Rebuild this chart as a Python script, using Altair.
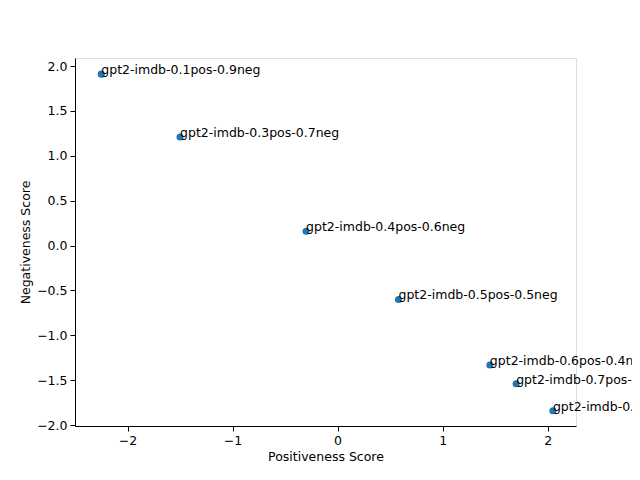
import altair as alt
import pandas as pd

labels = ["gpt2-imdb-0.1pos-0.9neg", "gpt2-imdb-0.3pos-0.7neg", "gpt2-imdb-0.4pos-0.6neg",
          "gpt2-imdb-0.5pos-0.5neg", "gpt2-imdb-0.6pos-0.4neg", "gpt2-imdb-0.7pos-0.3neg",
          "gpt2-imdb-0.9pos-0.1neg"]
pos = [-2.25, -1.50, -0.30, 0.58, 1.45, 1.70, 2.05]
neg = [1.91, 1.21, 0.16, -0.60, -1.33, -1.54, -1.84]

df = pd.DataFrame({"label": labels, "pos": pos, "neg": neg})

ax = dict(grid=False, labelFont="DejaVu Sans", titleFont="DejaVu Sans", labelFontSize=12.5,
          titleFontSize=12.5, titleFontWeight="normal", labelColor="black", titleColor="black",
          domainColor="black", tickColor="black", tickSize=5, labelPadding=3)
x = alt.X("pos:Q", title="Positiveness Score",
          scale=alt.Scale(domain=[-2.5, 2.27], nice=False, zero=False),
          axis=alt.Axis(values=[-2, -1, 0, 1, 2], format="d", **ax))
y = alt.Y("neg:Q", title="Negativeness Score",
          scale=alt.Scale(domain=[-2.01, 2.09], nice=False, zero=False),
          axis=alt.Axis(values=[-2, -1.5, -1, -0.5, 0, 0.5, 1, 1.5, 2], format=".1f", **ax))

pts = alt.Chart(df).mark_point(filled=True, opacity=1, size=50, color="#1f77b4").encode(x=x, y=y)
txt = alt.Chart(df).mark_text(align="left", baseline="alphabetic", dy=0, fontSize=12.5,
                              font="DejaVu Sans", color="black", clip=False).encode(x=x, y=y, text="label")

chart = (pts + txt).properties(
    width=501, height=368,
    autosize=alt.AutoSizeParams(type="none"),
    padding={"left": 67, "top": 50, "right": 56, "bottom": 46},
).configure_view(stroke="black", strokeWidth=1).configure(background="white")

chart.save("out.html", embed_options={"renderer": "svg", "actions": False})
